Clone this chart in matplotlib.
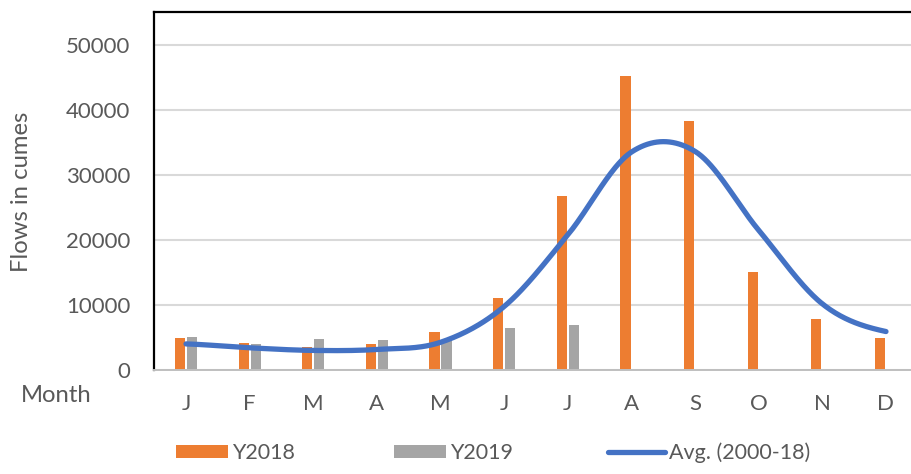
import numpy as np
import matplotlib
matplotlib.use("Agg")
import matplotlib.pyplot as plt
from matplotlib.patches import Patch
from matplotlib.lines import Line2D

months = ["J", "F", "M", "A", "M", "J", "J", "A", "S", "O", "N", "D"]
y2018 = [5000, 4150, 3550, 4050, 5900, 11100, 26800, 45200, 38250, 15050, 7850, 4950]
y2019 = [5100, 4000, 4750, 4650, 4700, 6450, 6950, 0, 0, 0, 0, 0]
avg = [4050, 3450, 3050, 3200, 4300, 9800, 20800, 33500, 33600, 21500, 10200, 5950]
yticks = [0, 10000, 20000, 30000, 40000, 50000]

ORANGE = "#ED7D31"
GRAY = "#A5A5A5"
BLUE = "#4472C4"
TXT = "#595959"
FONT = ["Lato", "DejaVu Sans"]
FS = 16

plt.rcParams["font.family"] = FONT

W, H = 912, 474
fig = plt.figure(figsize=(W / 100, H / 100), dpi=100)
left_px, right_px, top_px, bottom_px = 154.2, 154.2 + 763.6, 12, 370.3
ax = fig.add_axes([left_px / W, 1 - bottom_px / H, (right_px - left_px) / W, (bottom_px - top_px) / H])

x = np.arange(len(months))
bw = 0.16
off = 0.094
ax.bar(x - off, y2018, width=bw, color=ORANGE, zorder=2)
ax.bar(x + off, y2019, width=bw, color=GRAY, zorder=2)


def smooth(xs, ys, n=40):
    xs = np.asarray(xs, float)
    ys = np.asarray(ys, float)
    px = np.concatenate([[2 * xs[0] - xs[1]], xs, [2 * xs[-1] - xs[-2]]])
    py = np.concatenate([[ys[0]], ys, [ys[-1]]])
    outx, outy = [], []
    for i in range(1, len(px) - 2):
        t = np.linspace(0, 1, n, endpoint=(i == len(px) - 3))
        for arr, out in ((px, outx), (py, outy)):
            p0, p1, p2, p3 = arr[i - 1], arr[i], arr[i + 1], arr[i + 2]
            out.extend(0.5 * ((2 * p1) + (-p0 + p2) * t + (2 * p0 - 5 * p1 + 4 * p2 - p3) * t ** 2
                              + (-p0 + 3 * p1 - 3 * p2 + p3) * t ** 3))
    return np.array(outx), np.array(outy)


sx, sy = smooth(x, avg)
ax.plot(sx, sy, color=BLUE, lw=3.8, solid_capstyle="round", zorder=3)

ax.set_xlim(-0.5, 11.5)
ax.set_ylim(0, 55000)
ax.set_yticks(yticks)
ax.set_yticklabels([str(v) for v in yticks])
ax.set_xticks(x)
ax.set_xticklabels(months)
ax.tick_params(axis="both", length=0, labelsize=FS, labelcolor=TXT)
ax.tick_params(axis="y", pad=17)
ax.tick_params(axis="x", pad=17)
ax.grid(axis="y", color="#D9D9D9", lw=1.5, zorder=0)
ax.set_axisbelow(True)
for s in ("left", "top"):
    ax.spines[s].set_color("black")
    ax.spines[s].set_linewidth(1.6)
ax.spines["bottom"].set_color("#BFBFBF")
ax.spines["bottom"].set_linewidth(1.4)
ax.spines["right"].set_visible(False)

fig.text(22 / W, 1 - 192 / H, "Flows in cumes", rotation=90, ha="center", va="center",
         fontsize=17.2, color=TXT)
fig.text(21 / W, 1 - 395 / H, "Month", ha="left", va="center", fontsize=17.2, color=TXT)

LFS = 15.5
em = LFS * 100 / 72
handles = [
    (Patch(facecolor=ORANGE, edgecolor="none"), "Y2018", 176),
    (Patch(facecolor=GRAY, edgecolor="none"), "Y2019", 394),
    (Line2D([], [], color=BLUE, lw=3.8, solid_capstyle="round"), "Avg. (2000-18)", 608),
]
for h, lab, xp in handles:
    hl = (52 if not isinstance(h, Line2D) else 57) / em
    leg = fig.legend([h], [lab], loc="center left", bbox_to_anchor=(xp / W, 1 - 453 / H),
                     frameon=False, fontsize=LFS, handlelength=hl, handleheight=12 / em,
                     handletextpad=4 / em, borderpad=0, borderaxespad=0)
    for t in leg.get_texts():
        t.set_color(TXT)

fig.savefig("out.png", dpi=100)
